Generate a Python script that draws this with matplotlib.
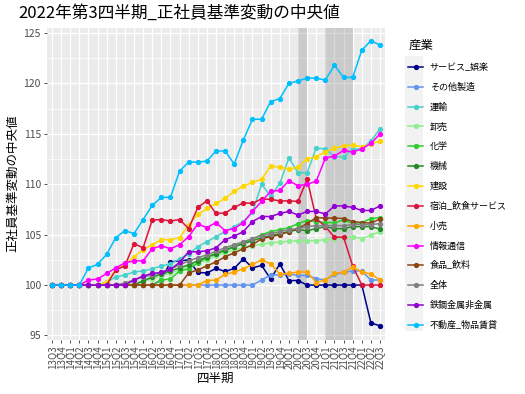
import numpy as np
import matplotlib
matplotlib.use("Agg")
import matplotlib.pyplot as plt
from matplotlib.patches import Rectangle

plt.rcParams['font.family'] = ['Noto Sans CJK JP', 'DejaVu Sans']

quarters = ['13Q3', '13Q4',
            '14Q1', '14Q2', '14Q3', '14Q4',
            '15Q1', '15Q2', '15Q3', '15Q4',
            '16Q1', '16Q2', '16Q3', '16Q4',
            '17Q1', '17Q2', '17Q3', '17Q4',
            '18Q1', '18Q2', '18Q3', '18Q4',
            '19Q1', '19Q2', '19Q3', '19Q4',
            '20Q1', '20Q2', '20Q3', '20Q4',
            '21Q1', '21Q2', '21Q3', '21Q4',
            '22Q1', '22Q2', '22Q3']

service = [100]*12 + [100.5, 102.3, 102.4, 102.5, 101.25, 101.2, 101.65, 101.35,
                      101.65, 102.6, 101.7, 101.95, 100.6, 102.1, 100.45, 100.45] \
          + [100]*7 + [96.25, 95.95]
other_mfg = [100]*23 + [100.5, 101.0, 101.0, 101.1, 100.95, 100.95, 100.65, 100.5,
                        101.05, 101.25, 101.4, 101.4, 100.5, 100.5]
transport = [100]*6 + [100.3, 100.8, 101.0, 101.3, 101.4, 101.6, 101.9, 102.1, 102.6,
                       103.1, 103.8, 104.3, 104.8, 105.3, 105.8, 106.3, 107.2, 110.0,
                       108.8, 110.1, 112.6, 111.15, 111.15, 113.6, 113.5, 112.75,
                       112.7, 113.5, 113.5, 114.3, 115.5]
wholesale = [100]*9 + [100.2, 100.4, 100.6, 100.9, 101.2, 101.5, 101.8, 102.2, 102.5,
                       102.9, 103.2, 103.5, 103.7, 103.9, 104.05, 104.2, 104.25, 104.35,
                       104.4, 104.4, 104.4, 104.5, 104.6, 104.7, 104.8, 104.6, 104.95,
                       105.3]
chemical = [100]*12 + [100.5, 100.6, 101.4, 101.6, 102.2, 102.7, 103.1, 103.4, 103.8,
                       104.2, 104.6, 105.0, 105.3, 105.5, 105.7, 106.1, 106.4, 106.3,
                       106.2, 106.2, 106.45, 106.1, 106.2, 106.6, 106.7]
machinery = [100]*10 + [100.4, 100.8, 101.1, 101.4, 101.7, 102.0, 102.4, 102.8, 103.1,
                        103.5, 103.8, 104.1, 104.4, 104.7, 104.9, 105.1, 105.3, 105.5,
                        105.4, 105.6, 105.8, 105.6, 105.6, 105.8, 105.8, 105.8, 105.55]
construction = [100]*6 + [100.3, 101.5, 102.0, 102.8, 103.5, 104.0, 104.5, 104.5, 104.7,
                          106.0, 107.0, 107.6, 108.1, 108.6, 109.3, 109.8, 110.2, 110.5,
                          111.8, 111.7, 111.5, 111.7, 112.5, 112.75, 113.2, 113.6, 113.8,
                          113.9, 113.7, 114.0, 114.3]
hospitality = [100]*7 + [101.5, 101.9, 104.1, 103.7, 106.45, 106.5, 106.35, 106.5, 105.6,
                         107.7, 108.35, 107.1, 107.15, 107.7, 108.15, 108.1, 108.55,
                         108.5, 108.35, 108.35, 108.3, 110.5, 106.6, 105.8, 104.75,
                         104.75, 101.9, 100, 100, 100]
retail = [100]*17 + [100.45, 100.5, 101.05, 101.3, 101.6, 102.05, 102.5, 102.1, 101.1,
                     101.15, 101.3, 101.3, 100.25, 100.5, 101.15, 101.3, 101.8, 101.3,
                     101.1, 100.5]
infocomm = [100]*4 + [100.5, 100.6, 101.15, 101.7, 102.2, 102.4, 102.4, 103.6, 103.9,
                      103.6, 104.0, 104.8, 106.05, 105.7, 106.2, 105.4, 105.6, 106.2,
                      107.3, 108.3, 109.3, 109.4, 110.35, 109.85, 110.0, 110.3, 112.6,
                      112.8, 113.35, 113.2, 113.5, 114.05, 115.0]
food = [100]*15 + [101.2, 101.5, 101.9, 102.3, 102.8, 103.2, 103.6, 104.0, 104.6, 104.8,
                   105.0, 105.3, 105.6, 106.1, 106.7, 106.65, 106.65, 106.6, 106.3,
                   106.2, 106.15, 106.55]
overall = [100]*8 + [100.2, 100.5, 100.8, 101.0, 101.3, 101.6, 102.0, 102.4, 102.7,
                     103.0, 103.35, 103.7, 104.0, 104.3, 104.6, 104.9, 105.1, 105.3,
                     105.5, 105.6, 105.8, 105.9, 105.9, 105.9, 105.9, 106.0, 106.0,
                     106.0, 106.1]
steel = [100]*9 + [100.5, 100.9, 101.15, 101.25, 101.55, 102.25, 103.3, 103.3, 103.4,
                   103.7, 104.5, 104.85, 105.3, 106.3, 106.8, 106.8, 107.1, 107.3,
                   106.95, 107.3, 107.3, 107.05, 107.85, 107.85, 107.7, 107.4, 107.4,
                   107.85]
realestate = [100, 100, 100, 100, 101.7, 102.05, 103.05, 104.7, 105.4, 105.1, 106.5,
              107.9, 108.7, 108.7, 111.3, 112.2, 112.2, 112.3, 113.3, 113.3, 112.0,
              114.4, 116.45, 116.45, 118.2, 118.5, 120.0, 120.25, 120.55, 120.5,
              120.35, 121.8, 120.6, 120.6, 123.3, 124.25, 123.8]

industries = ['サービス_娯楽', 'その他製造', '運輸', '卸売', '化学', '機械', '建設',
              '宿泊_飲食サービス', '小売', '情報通信', '食品_飲料', '全体',
              '鉄鋼金属非金属', '不動産_物品賃貸']
series = [service, other_mfg, transport, wholesale, chemical, machinery, construction,
          hospitality, retail, infocomm, food, overall, steel, realestate]
colors = ['#00008B', '#6495ED', '#48D1CC', '#90EE90', '#32CD32', '#228B22', '#FFD700',
          '#DC143C', '#FFA500', '#FF00FF', '#8B4513', '#808080', '#9400D3', '#00BFFF']

# shaded periods (quarter index ranges)
shade = [(27, 28), (30, 33)]

W, H = 525, 394
fig = plt.figure(figsize=(W/100, H/100), dpi=100)
ax = fig.add_axes([46.5/W, 1-340/H, (385.5-46.5)/W, (340-27.5)/H])
ax.set_facecolor('#EBEBEB')

x = np.arange(len(quarters))
ax.set_xlim(-0.6, len(quarters)-1+0.6)
ax.set_ylim(94.55, 125.55)

ax.set_yticks([95, 100, 105, 110, 115, 120, 125])
ax.set_yticks(np.arange(97.5, 125, 5), minor=True)
ax.set_xticks(x)
ax.set_xticklabels(quarters, rotation=90, fontsize=7, color='#4D4D4D')
ax.tick_params(axis='y', labelsize=7.5, labelcolor='#4D4D4D')
ax.tick_params(which='major', length=2.5, width=0.6, color='#333333', pad=1.5)
ax.tick_params(which='minor', length=0)
ax.grid(which='major', color='white', lw=0.9, zorder=0)
ax.grid(which='minor', axis='y', color='white', lw=0.5, zorder=0)
ax.set_axisbelow(True)
for s in ax.spines.values():
    s.set_visible(False)

for a, b in shade:
    ax.axvspan(a, b, color='gray', alpha=0.3, lw=0, zorder=1)

lines = []
for name, vals, c in zip(industries, series, colors):
    ln, = ax.plot(x, vals, '-o', color=c, lw=1.1, ms=2.8, label=name, zorder=2)
    lines.append(ln)

ax.set_xlabel('四半期', fontsize=9, labelpad=2)
ax.set_ylabel('正社員基準変動の中央値', fontsize=9, labelpad=3)
fig.text(18/W, 1-13/H, '2022年第3四半期_正社員基準変動の中央値', fontsize=12,
         va='center', ha='left')

# legend key background
fig.patches.append(Rectangle((405/W, 1-331/H), 18/W, 275/H, transform=fig.transFigure,
                             facecolor='#F2F2F2', edgecolor='none', zorder=0))
leg = fig.legend(handles=lines, loc='upper left', bbox_to_anchor=(400/W, 1-31/H),
                 frameon=False, fontsize=6.5, title='産業', title_fontsize=9,
                 handlelength=1.7, handletextpad=0.7, labelspacing=1.19,
                 alignment='left')

fig.savefig('out.png', dpi=100)
